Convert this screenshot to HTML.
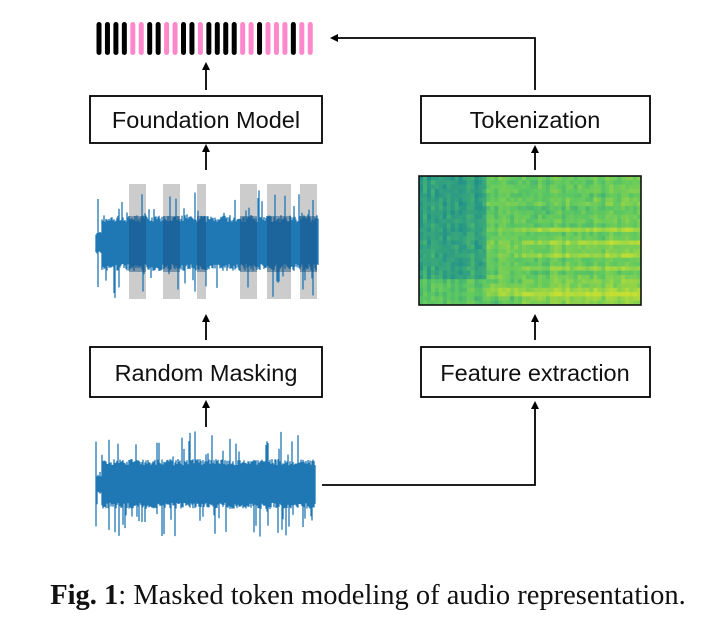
<!DOCTYPE html>
<html><head><meta charset="utf-8"><style>
html,body{margin:0;padding:0;background:#fff;width:724px;height:636px;overflow:hidden}
svg{display:block}
.b{font-family:"Liberation Sans",sans-serif;font-size:23.5px;fill:#111}
</style></head><body>
<svg id="s" width="724" height="636" viewBox="0 0 724 636">
<defs><marker id="a" markerWidth="8" markerHeight="8" refX="4" refY="4" orient="auto" markerUnits="userSpaceOnUse"><path d="M0,0 L8,4 L0,8 z" fill="#000"/></marker></defs>
<g id="tok"></g>
<g id="w1"></g>
<g id="spec"></g>
<g id="w2"></g>
<g stroke="#000" stroke-width="1.8" fill="#fff">
<rect x="90" y="96" width="232" height="47"/>
<rect x="421" y="96" width="229" height="47"/>
<rect x="90" y="347" width="232" height="50"/>
<rect x="421" y="347" width="229" height="50"/>
</g>
<g class="b" text-anchor="middle">
<text x="206" y="128">Foundation Model</text>
<text x="535" y="128">Tokenization</text>
<text x="206" y="381">Random Masking</text>
<text x="535" y="381">Feature extraction</text>
</g>
<g stroke="#000" stroke-width="1.8" fill="none" marker-end="url(#a)">
<line x1="206" y1="90" x2="206" y2="66"/>
<line x1="206" y1="170" x2="206" y2="148"/>
<line x1="206" y1="340" x2="206" y2="318"/>
<line x1="206" y1="427" x2="206" y2="404"/>
<line x1="535" y1="170" x2="535" y2="149"/>
<line x1="535" y1="340" x2="535" y2="318"/>
<polyline points="535,90 535,38 334,38"/>
<polyline points="322,485 535,485 535,405"/>
</g>
<text x="368" y="604" text-anchor="middle" font-family="'Liberation Serif',serif" font-size="28.5" fill="#111"><tspan font-weight="bold">Fig. 1</tspan>: Masked token modeling of audio representation.</text>
</svg>
<script>
var NS="http://www.w3.org/2000/svg";
function el(p,t,a){var e=document.createElementNS(NS,t);for(var k in a)e.setAttribute(k,a[k]);document.getElementById(p).appendChild(e);return e;}
var seed=7;function r(){seed=(seed*16807)%2147483647;return seed/2147483647;}
var c="KKKKPPKKPPKKPKKKKPPKPPPKPP";
for(var i=0;i<26;i++){el("tok","rect",{x:96.5+i*8.45,y:22,width:5,height:33,rx:2.5,fill:c[i]=="K"?"#000":"#ff88cc"});}
var M=[[129,146],[163,180],[197,206],[240,257],[267,291],[300,317]];
M.forEach(function(m){el("w1","rect",{x:m[0],y:184,width:m[1]-m[0],height:115,fill:"#cccccc"});});
function wave(g,x0,x1,cy,body,spike,prob){
 var d="";for(var x=x0;x<=x1;x+=1){var a=body*(0.75+0.25*r());if(r()<prob)a=spike*(0.5+0.5*r());
 var b=body*(0.75+0.25*r());if(r()<prob)b=spike*(0.5+0.5*r());if(x<x0+6){a*=0.4;b*=0.4;if(r()<0.4){a=spike*0.8;b=spike*0.8;}}d+="M"+x+" "+(cy-a).toFixed(1)+"V"+(cy+b).toFixed(1);}
 el(g,"path",{d:d,stroke:"#1f77b4","stroke-width":"1.3",fill:"none"});}
wave("w1",96,318,243,28,55,0.12);
M.forEach(function(m){el("w1","rect",{x:m[0],y:216,width:m[1]-m[0],height:56,fill:"#16507e",opacity:0.45});});
wave("w2",96,315,484,25,53,0.15);
var X0=419,Y0=176,W=222,H=129,cols=56,rows=30;
function vir(t){t=Math.max(0,Math.min(1,t));var s=[[59,82,139],[33,145,140],[94,201,98],[200,224,50]];var f=t*2.999,i=Math.floor(f),u=f-i;var a=s[i],b=s[i+1];return "rgb("+(a[0]+(b[0]-a[0])*u|0)+","+(a[1]+(b[1]-a[1])*u|0)+","+(a[2]+(b[2]-a[2])*u|0)+")";}
var rowb=[];for(var k=0;k<rows;k++)rowb.push(r()*0.12);
for(var cI=0;cI<cols;cI++){var cb=r()*0.12;for(var rI=0;rI<rows;rI++){var x=cI/cols,y=rI/rows;var v=0.3+cb;
if(x<0.3){v+=0.05*y;if(y>0.78)v+=0.18;}else{v+=0.22+rowb[rI];if(x>0.45&&y>0.35&&(rI%3==0))v+=0.12;if(y>0.8)v+=0.1;if(x<0.45&&y>0.9)v-=0.15;}
v+=r()*0.12;
el("spec","rect",{x:X0+cI*W/cols,y:Y0+rI*H/rows,width:W/cols+0.5,height:H/rows+0.5,fill:vir(v)});}}
el("spec","rect",{x:X0,y:Y0,width:W,height:H,fill:"none",stroke:"#111","stroke-width":1.6});
</script>
</body></html>
